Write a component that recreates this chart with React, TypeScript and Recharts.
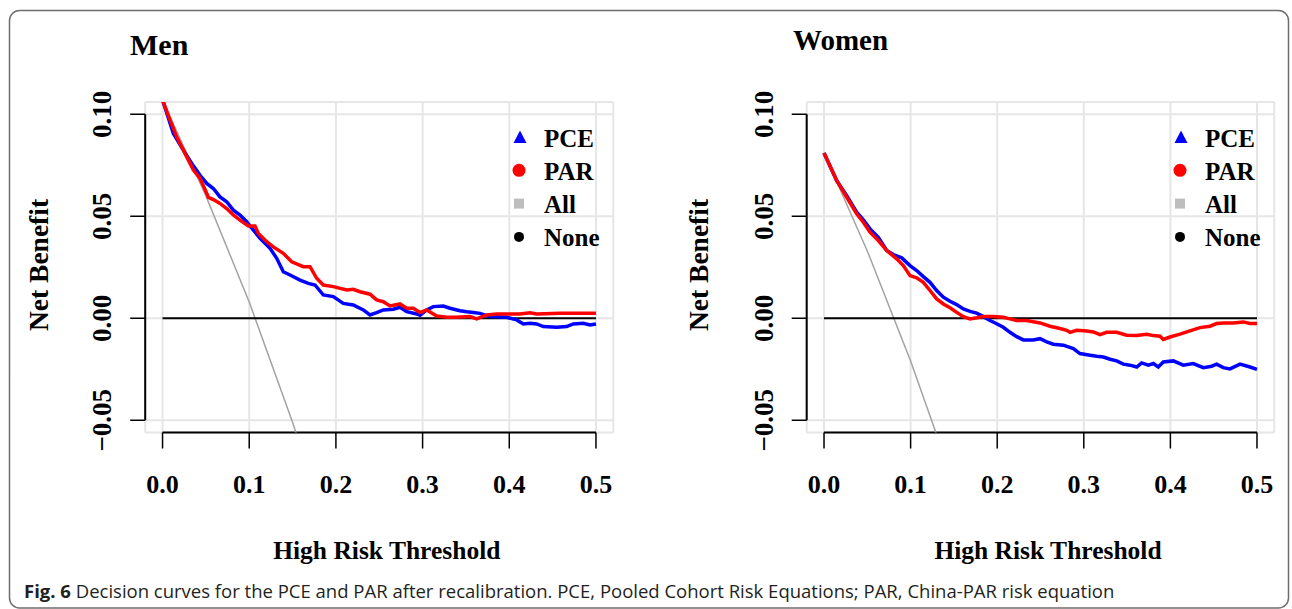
import React from 'react';
import { LineChart, Line, XAxis, YAxis, CartesianGrid, ReferenceLine, Legend } from 'recharts';

// axis ticks
const xTicks = [0, 0.1, 0.2, 0.3, 0.4, 0.5];
const xTickLabels = ['0.0', '0.1', '0.2', '0.3', '0.4', '0.5'];
const yTicks = [-0.05, 0, 0.05, 0.1];
const yTickLabels = ['\u22120.05', '0.00', '0.05', '0.10'];

// legend
const legendNames = ['PCE', 'PAR', 'All', 'None'];
const legendColors = ['#0000ff', '#ff0000', '#bebebe', '#000000'];

// Men – net benefit by threshold
const menPceX = [0, 0.0125, 0.024, 0.0337, 0.0433, 0.051, 0.0586, 0.0663, 0.074, 0.0817, 0.0894, 0.0971, 0.1048, 0.1125, 0.124, 0.1317, 0.1393, 0.1471, 0.1586, 0.1682, 0.1759, 0.1855, 0.197, 0.2085, 0.22, 0.2316, 0.2393, 0.247, 0.2547, 0.2662, 0.2739, 0.2817, 0.2932, 0.297, 0.3047, 0.3124, 0.3239, 0.3316, 0.3431, 0.3509, 0.3585, 0.3662, 0.3777, 0.397, 0.4085, 0.4162, 0.4239, 0.4316, 0.4393, 0.4547, 0.4662, 0.4739, 0.4854, 0.4931, 0.5];
const menPceY = [0.107, 0.0906, 0.0824, 0.0759, 0.0701, 0.0661, 0.0636, 0.0595, 0.0571, 0.053, 0.0506, 0.0473, 0.0432, 0.0392, 0.0343, 0.0294, 0.0228, 0.0212, 0.0187, 0.0171, 0.0163, 0.0114, 0.0106, 0.0073, 0.0065, 0.0041, 0.0016, 0.0028, 0.0041, 0.0044, 0.0054, 0.0032, 0.0021, 0.0015, 0.0041, 0.0057, 0.006, 0.0049, 0.0037, 0.0032, 0.0028, 0.0024, 0.0008, 0.0005, -0.0008, -0.0028, -0.0025, -0.0028, -0.0041, -0.0044, -0.0041, -0.0028, -0.0025, -0.0033, -0.0028];
const menParX = [0, 0.0087, 0.0163, 0.0279, 0.0356, 0.0433, 0.051, 0.0529, 0.0586, 0.0663, 0.074, 0.0817, 0.0894, 0.099, 0.1067, 0.1105, 0.1202, 0.1278, 0.1393, 0.149, 0.1624, 0.1701, 0.1778, 0.1855, 0.197, 0.2125, 0.22, 0.2278, 0.2393, 0.247, 0.2547, 0.2624, 0.2739, 0.2817, 0.2893, 0.297, 0.3047, 0.3163, 0.3278, 0.3393, 0.3547, 0.3624, 0.3739, 0.3855, 0.4123, 0.4239, 0.4316, 0.4585, 0.5];
const menParY = [0.107, 0.0971, 0.0889, 0.0791, 0.0726, 0.0685, 0.0612, 0.0592, 0.0582, 0.0563, 0.0538, 0.0506, 0.0481, 0.0452, 0.0452, 0.0416, 0.0375, 0.035, 0.0318, 0.0277, 0.0253, 0.0253, 0.0196, 0.0163, 0.0155, 0.0139, 0.0142, 0.013, 0.0118, 0.009, 0.0081, 0.006, 0.007, 0.0049, 0.0049, 0.0028, 0.0041, 0.0011, 0.0005, 0.0005, 0.0008, -0.0003, 0.0016, 0.0021, 0.0021, 0.0027, 0.0021, 0.0024, 0.0024];
const menAllX = [0, 0.05, 0.1, 0.15, 0.2];
const menAllY = [0.107, 0.06, 0.008, -0.051, -0.116];

// Women
const womenPceX = [0, 0.0146, 0.0262, 0.0377, 0.0454, 0.0531, 0.0627, 0.0724, 0.08, 0.0897, 0.0993, 0.107, 0.1147, 0.1224, 0.1301, 0.1378, 0.1455, 0.1532, 0.1609, 0.1686, 0.1763, 0.184, 0.1917, 0.1994, 0.207, 0.2148, 0.2225, 0.2302, 0.2417, 0.2494, 0.2572, 0.2648, 0.2764, 0.2879, 0.2956, 0.3072, 0.3149, 0.3226, 0.3303, 0.338, 0.3456, 0.3533, 0.3611, 0.3668, 0.3745, 0.3803, 0.386, 0.3918, 0.4034, 0.4149, 0.4264, 0.438, 0.4476, 0.4534, 0.4611, 0.4688, 0.4804, 0.4919, 0.5];
const womenPceY = [0.081, 0.0675, 0.0601, 0.052, 0.0482, 0.0438, 0.0397, 0.0332, 0.0312, 0.0296, 0.0258, 0.0234, 0.0204, 0.0176, 0.0136, 0.0103, 0.0083, 0.0067, 0.0046, 0.0034, 0.0025, 0.0008, -0.0011, -0.0027, -0.0044, -0.0069, -0.009, -0.0106, -0.0106, -0.01, -0.0116, -0.0127, -0.0132, -0.0149, -0.0173, -0.0181, -0.0186, -0.019, -0.0201, -0.0209, -0.0225, -0.023, -0.0239, -0.0219, -0.023, -0.0222, -0.0239, -0.0214, -0.0209, -0.023, -0.0222, -0.0242, -0.0235, -0.0225, -0.0242, -0.0248, -0.0225, -0.0239, -0.0251];
const womenParX = [0, 0.0146, 0.0262, 0.0377, 0.0454, 0.0531, 0.0627, 0.0724, 0.0839, 0.0916, 0.0993, 0.107, 0.1147, 0.1224, 0.1301, 0.1378, 0.1455, 0.1532, 0.1609, 0.1686, 0.1763, 0.184, 0.1955, 0.207, 0.2148, 0.2225, 0.234, 0.2494, 0.261, 0.2725, 0.2803, 0.2841, 0.2918, 0.3033, 0.311, 0.3187, 0.3264, 0.338, 0.3495, 0.3611, 0.3726, 0.3803, 0.388, 0.3918, 0.3995, 0.4111, 0.4226, 0.4342, 0.4457, 0.4534, 0.4611, 0.4726, 0.4842, 0.4919, 0.5];
const womenParY = [0.081, 0.0675, 0.0593, 0.0512, 0.0471, 0.0422, 0.0381, 0.0332, 0.0291, 0.0258, 0.0209, 0.0198, 0.0176, 0.0136, 0.0095, 0.007, 0.0051, 0.0029, 0.0008, -0.0003, 0.0002, 0.0008, 0.0008, 0.0005, -0.0003, -0.0011, -0.0011, -0.0023, -0.0039, -0.005, -0.0059, -0.0069, -0.0059, -0.0062, -0.0067, -0.008, -0.0069, -0.0069, -0.0083, -0.0085, -0.0078, -0.0085, -0.0088, -0.0104, -0.0092, -0.0078, -0.0062, -0.0046, -0.0039, -0.0026, -0.0023, -0.0023, -0.0018, -0.0026, -0.0026];
const womenAllX = [0, 0.05, 0.1, 0.15];
const womenAllY = [0.081, 0.033, -0.021, -0.081];

// "None" reference strategy
const noneX = [0, 0.5];
const noneY = [0, 0];

type Pt = { x: number; y: number };
const zip = (xs: number[], ys: number[]): Pt[] => xs.map((x, i) => ({ x, y: ys[i] }));

const W = 1292;
const H = 609;
const SERIF = '"Liberation Serif", "Times New Roman", serif';
const PLOT_TOP = 102;
const PLOT_BOTTOM = 432.5;

const XTick = (props: any) => {
  const { x, y, payload } = props;
  return (
    <text x={x} y={y + 44} textAnchor="middle" fontFamily={SERIF} fontWeight={700} fontSize={26} fill="#000">
      {xTickLabels[xTicks.indexOf(payload.value)]}
    </text>
  );
};

const YTick = (props: any) => {
  const { x, y, payload } = props;
  const bx = x - 19;
  return (
    <text x={bx} y={y} transform={`rotate(-90, ${bx}, ${y})`} textAnchor="middle" fontFamily={SERIF} fontWeight={700} fontSize={27} fill="#000">
      {yTickLabels[yTicks.indexOf(payload.value)]}
    </text>
  );
};

const LegendBox = () => (
  <svg width={120} height={135} style={{ overflow: 'visible' }}>
    {legendNames.map((name, i) => {
      const cy = 17 + i * 33.3;
      const mx = 14;
      let marker;
      if (i === 0) marker = <polygon points={`${mx - 6.5},${cy + 6} ${mx + 6.5},${cy + 6} ${mx},${cy - 6.5}`} fill={legendColors[i]} />;
      else if (i === 1) marker = <circle cx={mx - 1} cy={cy} r={6.5} fill={legendColors[i]} />;
      else if (i === 2) marker = <rect x={mx - 6} y={cy - 5} width={10} height={10} fill={legendColors[i]} />;
      else marker = <circle cx={mx - 1} cy={cy} r={5} fill={legendColors[i]} />;
      return (
        <g key={name}>
          {marker}
          <text x={38} y={cy + 9.5} fontFamily={SERIF} fontWeight={700} fontSize={25} fill="#000">{name}</text>
        </g>
      );
    })}
  </svg>
);

type PanelProps = {
  plotLeft: number;
  plotRight: number;
  pce: Pt[];
  par: Pt[];
  all: Pt[];
  legendLeft: number;
};

function Panel({ plotLeft, plotRight, pce, par, all, legendLeft }: PanelProps) {
  const none = zip(noneX, noneY);
  return (
    <div style={{ position: 'absolute', left: 0, top: 0 }}>
      <LineChart
        width={W}
        height={H}
        margin={{ top: PLOT_TOP, right: W - plotRight, bottom: H - PLOT_BOTTOM - 30, left: plotLeft - 60 }}
      >
        <CartesianGrid stroke="#e6e6e6" strokeWidth={2} />
        <XAxis
          type="number"
          dataKey="x"
          domain={[-0.02, 0.52]}
          ticks={xTicks}
          interval={0}
          allowDataOverflow
          axisLine={false}
          tickSize={16}
          tickMargin={0}
          tickLine={{ stroke: '#000', strokeWidth: 1.5 }}
          tick={XTick}
          height={30}
        />
        <YAxis
          type="number"
          dataKey="y"
          domain={[-0.056, 0.106]}
          ticks={yTicks}
          interval={0}
          allowDataOverflow
          axisLine={false}
          tickSize={15}
          tickMargin={0}
          tickLine={{ stroke: '#000', strokeWidth: 1.5 }}
          tick={YTick}
          width={60}
        />
        <ReferenceLine segment={[{ x: -0.02, y: -0.05 }, { x: -0.02, y: 0.1 }]} stroke="#000" strokeWidth={2} ifOverflow="visible" />
        <ReferenceLine segment={[{ x: 0, y: -0.056 }, { x: 0.5, y: -0.056 }]} stroke="#000" strokeWidth={2} ifOverflow="visible" />
        <Line data={all} dataKey="y" type="linear" stroke="#a3a3a3" strokeWidth={1.5} dot={false} isAnimationActive={false} />
        <Line data={none} dataKey="y" type="linear" stroke="#000" strokeWidth={2} dot={false} isAnimationActive={false} />
        <Line data={pce} dataKey="y" type="linear" stroke="#0000ff" strokeWidth={3.5} dot={false} isAnimationActive={false} />
        <Line data={par} dataKey="y" type="linear" stroke="#ff0000" strokeWidth={3.5} dot={false} isAnimationActive={false} />
        <Legend
          layout="vertical"
          align="center"
          verticalAlign="middle"
          content={LegendBox}
          wrapperStyle={{ left: legendLeft, top: 120, width: 120, height: 135 }}
        />
      </LineChart>
    </div>
  );
}

export default function App() {
  return (
    <div style={{ position: 'absolute', left: 0, top: 0, width: W, height: H, overflow: 'hidden', background: '#fff' }}>
      <Panel plotLeft={145.2} plotRight={613.3} pce={zip(menPceX, menPceY)} par={zip(menParX, menParY)} all={zip(menAllX, menAllY)} legendLeft={506} />
      <Panel plotLeft={806.7} plotRight={1274.3} pce={zip(womenPceX, womenPceY)} par={zip(womenParX, womenParY)} all={zip(womenAllX, womenAllY)} legendLeft={1167} />
      <svg width={W} height={H} style={{ position: 'absolute', left: 0, top: 0, pointerEvents: 'none' }}>
        <rect x={9.5} y={10.5} width={1279} height={597.5} rx={10} fill="none" stroke="#6e6e6e" strokeWidth={1.5} />
        <g fontFamily={SERIF} fontWeight={700} fill="#000">
          <text x={130} y={54.5} fontSize={30}>Men</text>
          <text x={793} y={49.5} fontSize={29}>Women</text>
          <text x={386.8} y={559} fontSize={25.5} textAnchor="middle">High Risk Threshold</text>
          <text x={1048} y={559} fontSize={25.5} textAnchor="middle">High Risk Threshold</text>
          <text x={48} y={265} fontSize={27.5} textAnchor="middle" transform="rotate(-90, 48, 265)">Net Benefit</text>
          <text x={708} y={265} fontSize={27.5} textAnchor="middle" transform="rotate(-90, 708, 265)">Net Benefit</text>
        </g>
        <text x={24} y={598} fontFamily='"Open Sans", sans-serif' fontSize={18.5} fill="#231f20">
          <tspan fontWeight={700}>Fig. 6</tspan> Decision curves for the PCE and PAR after recalibration. PCE, Pooled Cohort Risk Equations; PAR, China-PAR risk equation
        </text>
      </svg>
    </div>
  );
}
